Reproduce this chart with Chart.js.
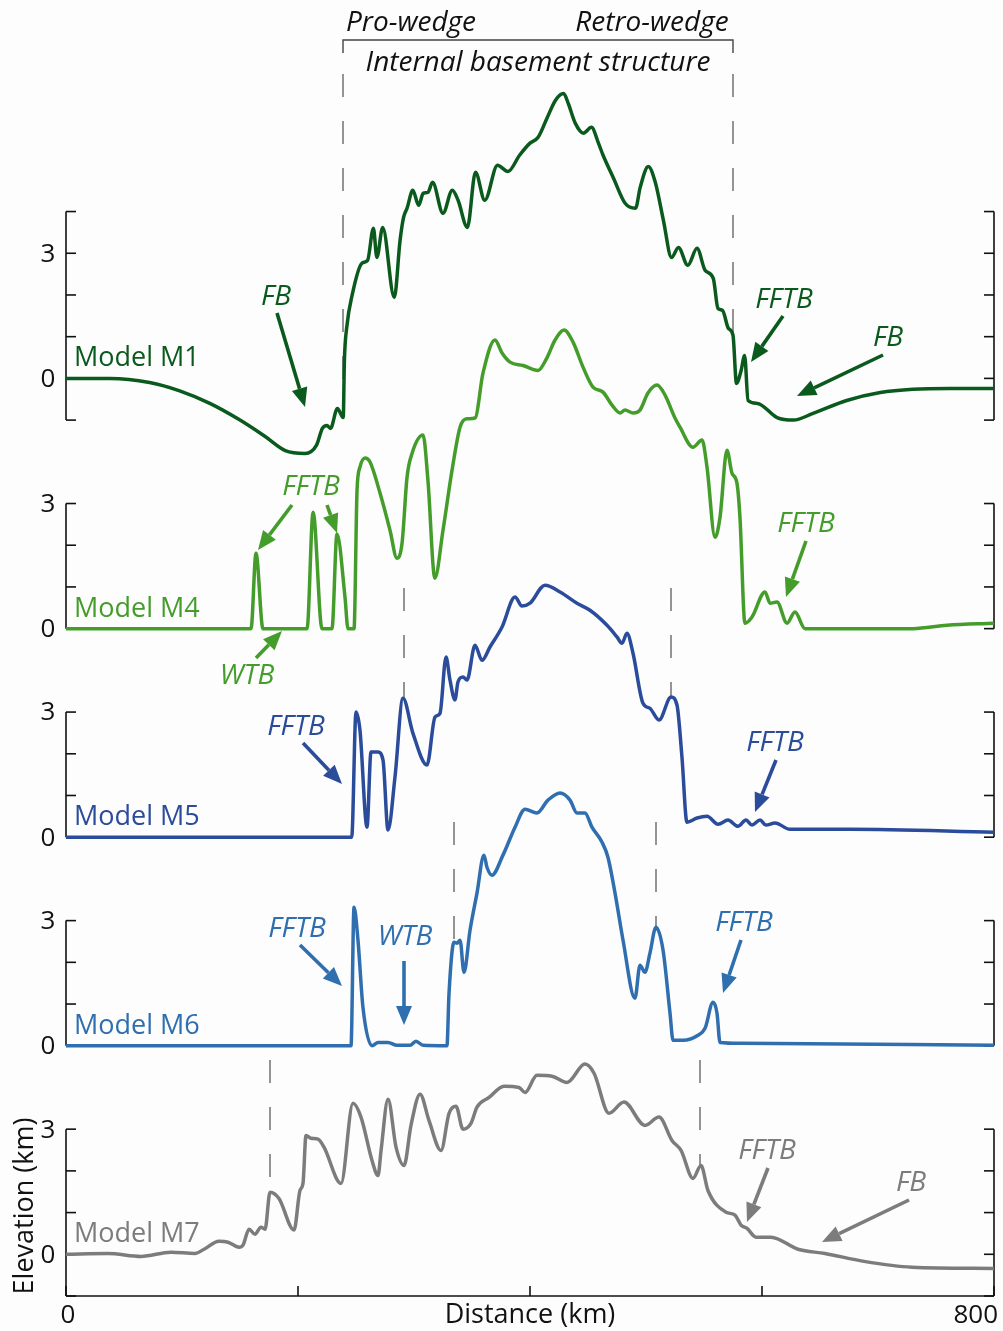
<!DOCTYPE html>
<html>
<head>
<meta charset="utf-8">
<script src="https://cdn.jsdelivr.net/npm/chart.js@4.4.1/dist/chart.umd.min.js"></script>
<style>
    html, body { margin: 0; padding: 0; background: #fdfdfd; }
    #wrap { position: relative; width: 1003px; height: 1331px; }
</style>
</head>
<body>
<div id="wrap"><canvas id="profiles" width="1003" height="1331"></canvas></div>
<script>
// Perfis topográficos (distância em km, elevação em km)
const m1Km   = [0, 38, 72, 98, 124, 150, 172, 189, 206, 216, 221, 225, 228, 234, 239, 240, 242, 247, 255, 260, 265, 268, 273, 283, 288, 291, 294, 299, 304, 308, 312, 316, 325, 333, 338, 346, 353, 361, 372, 381, 391, 400, 407, 415, 422, 429, 433, 439, 446, 453, 459, 463, 472, 482, 491, 495, 502, 508, 515, 522, 528, 536, 544, 551, 558, 562, 566, 571, 575, 578, 582, 585, 588, 596, 613, 627, 644, 673, 702, 730, 762, 800];
const m1Elev = [0, 0, -0.1, -0.3, -0.6, -1.0, -1.4, -1.73, -1.8, -1.6, -1.2, -1.13, -1.2, -0.72, -0.94, 0.43, 1.22, 2.04, 2.76, 2.83, 3.6, 2.9, 3.62, 1.94, 3.31, 3.86, 4.08, 4.51, 4.15, 4.44, 4.46, 4.7, 3.96, 4.51, 4.27, 3.62, 4.94, 4.27, 5.11, 4.96, 5.35, 5.64, 5.78, 6.26, 6.67, 6.83, 6.59, 6.12, 5.88, 6.02, 5.64, 5.35, 4.8, 4.2, 4.08, 4.58, 5.08, 4.7, 3.79, 2.9, 3.14, 2.71, 3.12, 2.59, 2.4, 1.68, 1.63, 1.2, 1.03, -0.12, 0.19, 0.55, -0.53, -0.6, -0.94, -1.0, -0.84, -0.53, -0.34, -0.26, -0.24, -0.24];

const m4Km   = [0, 159.5, 163.8, 169.8, 207.8, 213, 220.7, 229.3, 233.6, 240.5, 243.1, 248.3, 250.9, 253.4, 257.8, 262, 270.7, 279.3, 285.3, 289.7, 294, 298.3, 307.8, 312, 318, 325, 332.8, 339.7, 345.7, 352.6, 359.5, 369.8, 375.9, 382.8, 394, 406.9, 414.7, 421.6, 429.3, 437.1, 445.7, 454.3, 462.9, 470.7, 477.6, 481.9, 488.8, 494.8, 501.7, 509.5, 516.4, 525, 529.3, 540.5, 548.3, 552.6, 559.5, 563.8, 569.8, 574.1, 578.4, 581, 585.3, 591.4, 602.6, 606.9, 612.9, 621.6, 628.4, 637.1, 730.2, 759.5, 800];
const m4Elev = [0, 0, 1.81, 0, 0, 2.79, 0, 0, 2.27, 0.76, 0, 0, 3.32, 3.87, 4.09, 4.0, 3.25, 2.36, 1.69, 2.05, 3.63, 4.2, 4.64, 3.56, 1.21, 2.36, 3.8, 4.83, 5.03, 5.05, 6.13, 6.92, 6.61, 6.39, 6.31, 6.19, 6.5, 6.92, 7.16, 6.87, 6.27, 5.79, 5.67, 5.36, 5.17, 5.24, 5.17, 5.24, 5.65, 5.84, 5.6, 5.05, 4.83, 4.35, 4.52, 3.87, 2.19, 2.67, 4.28, 3.73, 3.49, 2.67, 0.13, 0.28, 0.88, 0.61, 0.64, 0.13, 0.4, 0, 0, 0.08, 0.13];

const m5Km   = [0, 246.3, 250, 253.4, 259.5, 262.9, 269, 273.3, 277.6, 283.6, 290.5, 299.1, 311.2, 318.1, 322.4, 327.6, 331, 335.3, 337.9, 342.2, 345.7, 352.6, 358.6, 365.5, 375.9, 387.1, 393.1, 400, 412.9, 425.9, 440.5, 451.7, 466.4, 475, 479.3, 483.6, 488.8, 497.4, 503.4, 511.2, 521.6, 526.7, 531, 535.3, 544, 552.6, 562.1, 570.7, 579.3, 586.2, 591.4, 598.3, 603.4, 611.2, 624.1, 675.9, 800];
const m5Elev = [0, 0, 3.0, 2.57, 0.24, 2.04, 2.04, 1.85, 0.17, 1.44, 3.33, 2.49, 1.73, 2.88, 2.97, 4.32, 3.77, 3.29, 3.72, 3.84, 3.77, 4.6, 4.24, 4.56, 5.04, 5.76, 5.54, 5.61, 6.04, 5.88, 5.61, 5.44, 5.08, 4.8, 4.65, 4.89, 4.41, 3.21, 3.09, 2.81, 3.36, 3.17, 1.92, 0.36, 0.46, 0.5, 0.31, 0.41, 0.26, 0.41, 0.29, 0.41, 0.29, 0.34, 0.19, 0.19, 0.12];

const m6Km   = [0, 245.7, 248.3, 251.7, 256, 263.8, 269, 277.6, 285.3, 296.6, 301.7, 307.8, 328.4, 330.2, 334.5, 337.1, 339.7, 343.1, 348.3, 354.3, 360.3, 362.9, 367.2, 376.7, 387.1, 395.7, 406, 415.5, 425.9, 434.5, 440.5, 447.4, 453.4, 462.1, 467.2, 473.3, 480.2, 490.5, 494.8, 499.1, 503.4, 508.6, 514.7, 520.7, 523.3, 531.9, 544.8, 550.9, 557.8, 561.2, 563.8, 581, 800];
const m6Elev = [0, 0, 3.32, 2.53, 0.92, 0, 0.08, 0.08, 0.01, 0.01, 0.11, 0.01, 0, 1.26, 2.48, 2.46, 2.53, 1.76, 2.77, 3.66, 4.57, 4.28, 4.09, 4.57, 5.24, 5.67, 5.58, 5.89, 6.06, 5.89, 5.58, 5.58, 5.24, 4.88, 4.52, 3.66, 2.53, 1.14, 1.93, 1.76, 2.22, 2.84, 2.29, 0.78, 0.13, 0.13, 0.25, 0.42, 1.04, 0.78, 0.08, 0.06, 0.01];

const m7Km   = [0, 36.2, 64.7, 90.5, 111.2, 119, 131.9, 139.7, 149.1, 152.6, 157.8, 162.9, 168.1, 171.6, 175.9, 183.6, 196.6, 201.7, 204.3, 206.9, 211.2, 217.2, 222.4, 237.1, 247.4, 254.3, 263.8, 269, 271.6, 277.6, 284.5, 291.4, 297.4, 305.2, 312.9, 323.3, 330.2, 336.2, 342.2, 349.1, 354.3, 364.7, 377.6, 390.5, 395.7, 406, 419, 431.9, 447.4, 455.2, 468.1, 481, 499.1, 511.2, 522.4, 530.2, 540.5, 547.4, 553.4, 569, 576.7, 581.9, 587.1, 594.8, 607.8, 631, 654.3, 687.9, 729.3, 800];
const m7Elev = [0, 0.02, -0.05, 0.05, 0.02, 0.12, 0.31, 0.29, 0.17, 0.22, 0.6, 0.48, 0.65, 0.6, 1.49, 1.34, 0.58, 1.53, 1.7, 2.85, 2.78, 2.76, 2.57, 1.7, 3.62, 3.29, 2.25, 1.89, 2.49, 3.72, 2.57, 2.13, 3.09, 3.84, 3.21, 2.49, 3.38, 3.55, 3.0, 3.14, 3.53, 3.76, 4.03, 4.0, 3.88, 4.29, 4.27, 4.12, 4.56, 4.34, 3.38, 3.65, 3.09, 3.29, 2.73, 2.49, 1.82, 2.13, 1.53, 1.01, 0.94, 0.7, 0.62, 0.41, 0.41, 0.12, 0.02, -0.17, -0.31, -0.34];

const modelNames   = ['Model M1', 'Model M4', 'Model M5', 'Model M6', 'Model M7'];
const modelOffsets = [21, 15, 10, 5, 0];          // deslocamento vertical de cada perfil (km)
const modelColors  = ['#0b5a1d', '#449d2b', '#2b4b9b', '#2f6fb0', '#7c7c7c'];
const axisRanges   = [[-1, 4], [0, 3], [0, 3], [0, 3], [-1, 3]];
const elevTicks    = [0, 3];
const distTicks    = [0, 200, 400, 600, 800];

const profileKm   = [m1Km, m4Km, m5Km, m6Km, m7Km];
const profileElev = [m1Elev, m4Elev, m5Elev, m6Elev, m7Elev];

const FONT = '"Open Sans", "Noto Sans", sans-serif';

// Anotações (pixels)
const notes = [
    { t: 'FB',   x: 276, y: 297, c: 0 },
    { t: 'FFTB', x: 784, y: 300, c: 0 },
    { t: 'FB',   x: 888, y: 338, c: 0 },
    { t: 'FFTB', x: 311, y: 487, c: 1 },
    { t: 'WTB',  x: 247, y: 676, c: 1 },
    { t: 'FFTB', x: 806, y: 524, c: 1 },
    { t: 'FFTB', x: 296, y: 727, c: 2 },
    { t: 'FFTB', x: 775, y: 743, c: 2 },
    { t: 'FFTB', x: 297, y: 929, c: 3 },
    { t: 'WTB',  x: 405, y: 937, c: 3 },
    { t: 'FFTB', x: 744, y: 923, c: 3 },
    { t: 'FFTB', x: 767, y: 1151, c: 4 },
    { t: 'FB',   x: 911, y: 1183, c: 4 }
];
const arrows = [
    [277, 313, 305, 407, 0], [783, 316, 751, 362, 0], [883, 355, 797, 396, 0],
    [292, 505, 258, 550, 1], [327, 505, 337, 533, 1], [256, 658, 282, 631, 1], [806, 541, 786, 597, 1],
    [303, 743, 342, 784, 2], [776, 760, 755, 812, 2],
    [300, 945, 342, 986, 3], [404, 961, 404, 1025, 3], [741, 940, 723, 993, 3],
    [768, 1168, 747, 1222, 4], [909, 1200, 822, 1242, 4]
];
const dashedLines = [
    [343, 74, 415], [733, 74, 345],
    [404, 588, 700], [671, 588, 697],
    [454, 822, 942], [656, 822, 928],
    [270, 1060, 1192], [700, 1060, 1166]
];

function drawArrow(ctx, x1, y1, x2, y2, color) {
    const ang = Math.atan2(y2 - y1, x2 - x1);
    const head = 19, half = 8;
    const bx = x2 - head * Math.cos(ang), by = y2 - head * Math.sin(ang);
    ctx.strokeStyle = color;
    ctx.fillStyle = color;
    ctx.lineWidth = 3.6;
    ctx.beginPath();
    ctx.moveTo(x1, y1);
    ctx.lineTo(bx, by);
    ctx.stroke();
    ctx.beginPath();
    ctx.moveTo(x2, y2);
    ctx.lineTo(bx + half * Math.sin(ang), by - half * Math.cos(ang));
    ctx.lineTo(bx - half * Math.sin(ang), by + half * Math.cos(ang));
    ctx.closePath();
    ctx.fill();
}

const framePlugin = {
    id: 'frame',
    beforeDatasetsDraw(chart) {
        const ctx = chart.ctx;
        const xs = chart.scales.x, ys = chart.scales.y;
        const L = xs.getPixelForValue(0), R = xs.getPixelForValue(800);
        ctx.save();
        // linhas tracejadas
        ctx.strokeStyle = '#7a7a7a';
        ctx.lineWidth = 1.6;
        ctx.setLineDash([23, 24]);
        dashedLines.forEach(([x, y1, y2]) => {
            ctx.beginPath();
            ctx.moveTo(x, y1);
            ctx.lineTo(x, y2);
            ctx.stroke();
        });
        ctx.setLineDash([]);

        // eixos verticais por modelo
        ctx.strokeStyle = '#111';
        ctx.lineWidth = 1.6;
        ctx.fillStyle = '#111';
        ctx.font = '26px ' + FONT;
        ctx.textAlign = 'center';
        ctx.textBaseline = 'middle';
        axisRanges.forEach(([lo, hi], i) => {
            const off = modelOffsets[i];
            const yTop = ys.getPixelForValue(off + hi), yBot = ys.getPixelForValue(off + lo);
            [[L, 1], [R, -1]].forEach(([ax, dir]) => {
                ctx.beginPath();
                ctx.moveTo(ax, yTop);
                ctx.lineTo(ax, yBot);
                ctx.stroke();
                for (let v = lo; v <= hi; v++) {
                    const yy = ys.getPixelForValue(off + v);
                    ctx.beginPath();
                    ctx.moveTo(ax, yy);
                    ctx.lineTo(ax + dir * 10, yy);
                    ctx.stroke();
                }
            });
            elevTicks.forEach(v => ctx.fillText(String(v), L - 18, ys.getPixelForValue(off + v) + 1));
        });

        // eixo x
        const yb = ys.getPixelForValue(-1);
        ctx.beginPath();
        ctx.moveTo(L, yb);
        ctx.lineTo(R, yb);
        ctx.stroke();
        distTicks.forEach(v => {
            const xx = xs.getPixelForValue(v);
            ctx.beginPath();
            ctx.moveTo(xx, yb);
            ctx.lineTo(xx, yb - 10);
            ctx.stroke();
        });
        ctx.textBaseline = 'alphabetic';
        ctx.fillText('0', L + 2, yb + 27);
        ctx.textAlign = 'right';
        ctx.fillText('800', R + 4, yb + 27);
        ctx.textAlign = 'center';
        ctx.font = '27px ' + FONT;
        ctx.fillText('Distance (km)', xs.getPixelForValue(400), yb + 27);
        ctx.save();
        ctx.translate(33, 1206);
        ctx.rotate(-Math.PI / 2);
        ctx.fillText('Elevation (km)', 0, 0);
        ctx.restore();

        // topo: cunhas
        ctx.font = 'italic 28px ' + FONT;
        ctx.fillText('Pro-wedge', 411, 31);
        ctx.fillText('Retro-wedge', 652, 31);
        ctx.fillText('Internal basement structure', 538, 71);
        ctx.strokeStyle = '#444';
        ctx.lineWidth = 1.4;
        ctx.beginPath();
        ctx.moveTo(343, 53);
        ctx.lineTo(343, 40);
        ctx.lineTo(733, 40);
        ctx.lineTo(733, 53);
        ctx.stroke();
        ctx.restore();
    },
    afterDatasetsDraw(chart) {
        const ctx = chart.ctx;
        const ys = chart.scales.y;
        ctx.save();
        ctx.font = '27px ' + FONT;
        ctx.textAlign = 'left';
        ctx.textBaseline = 'alphabetic';
        modelNames.forEach((name, i) => {
            ctx.fillStyle = modelColors[i];
            ctx.fillText(name, 74, ys.getPixelForValue(modelOffsets[i]) - 12);
        });
        ctx.font = 'italic 28px ' + FONT;
        ctx.textAlign = 'center';
        ctx.textBaseline = 'middle';
        notes.forEach(n => {
            ctx.fillStyle = modelColors[n.c];
            ctx.fillText(n.t, n.x, n.y);
        });
        arrows.forEach(([x1, y1, x2, y2, c]) => drawArrow(ctx, x1, y1, x2, y2, modelColors[c]));
        ctx.restore();
    }
};

const datasets = modelNames.map((name, i) => ({
    label: name,
    data: profileKm[i].map((km, j) => ({ x: km, y: profileElev[i][j] + modelOffsets[i] })),
    borderColor: modelColors[i],
    borderWidth: 3.5,
    pointRadius: 0,
    fill: false,
    cubicInterpolationMode: 'monotone'
}));

new Chart(document.getElementById('profiles'), {
    type: 'line',
    data: { datasets },
    options: {
        responsive: false,
        animation: false,
        layout: { padding: { left: 66, right: 9, top: 3, bottom: 35 } },
        scales: {
            x: { type: 'linear', min: 0, max: 800, display: false },
            y: { type: 'linear', min: -1, max: 30, display: false }
        },
        plugins: {
            legend: { display: false },
            tooltip: { enabled: false }
        }
    },
    plugins: [framePlugin]
});
</script>
</body>
</html>
